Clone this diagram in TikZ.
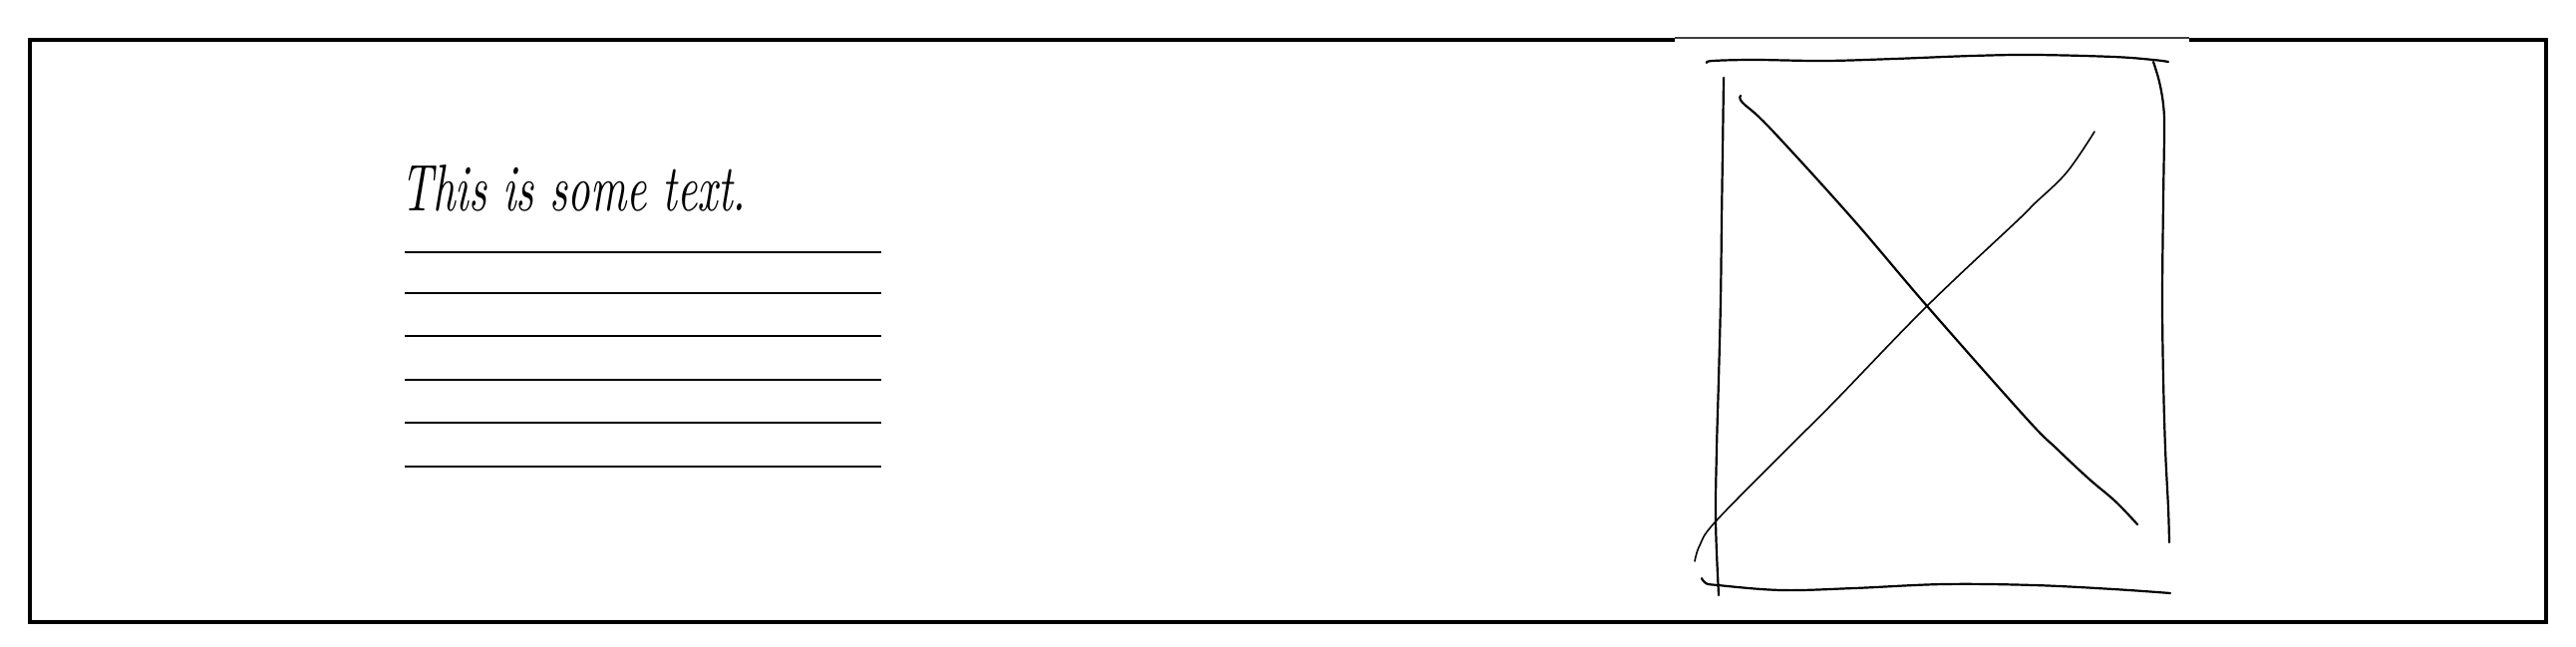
\documentclass[tikz,border=0pt]{standalone}
\usepackage{graphicx}
\tikzset{
  framebox/.style={line width=2pt, draw=black},
  ruleline/.style={line width=1pt, draw=black},
  sketch/.style={line width=1.1pt, draw=black, line cap=round, line join=round},
  thinsketch/.style={line width=0.8pt, draw=black, line cap=round, line join=round},
}
\begin{document}
\begin{tikzpicture}[x=0.5pt,y=-0.5pt]
\useasboundingbox (0,0) rectangle (2584,648);
% outer frame
\draw[framebox] (30,40) rectangle (2554,624);
% image placeholder background covering the frame
\fill[white] (1680,37.5) rectangle (2196,45);
\draw[line width=0.6pt, draw=black!75] (1680,38) -- (2196,38);
% text
\node[anchor=base west, inner sep=0pt] (title) at (402,211)
  {\resizebox{173pt}{23pt}{\itshape This is some text.}};
% ruled lines
\foreach \yy [count=\i] in {253,294,337,381,424,468}
  \draw[ruleline] (406,\yy) coordinate (l\i) -- (884,\yy) coordinate (r\i);
% sketched placeholder
\draw[sketch] plot[smooth, tension=0.6] coordinates {(1712,63) (1718,61) (1760,60) (1830,61) (1900,59) (1978,56) (2040,55) (2120,57) (2160,60) (2175,62)};
\draw[sketch] plot[smooth, tension=0.6] coordinates {(2160,62) (2166,82) (2170,105) (2171,130) (2170,200) (2169,300) (2170,380) (2172,450) (2175,510) (2176,544)};
\draw[sketch] plot[smooth, tension=0.6] coordinates {(1729,78) (1728,150) (1727,220) (1726,300) (1724,380) (1722,450) (1721,523) (1724,597)};
\draw[sketch] plot[smooth, tension=0.6] coordinates {(1707,580) (1711,585) (1723,587) (1787,592) (1860,590) (1950,586) (2040,587) (2120,591) (2177,595)};
\draw[sketch] plot[smooth, tension=0.6] coordinates {(1746,96) (1748,103) (1775,128) (1857,218) (1933,307) (2033,420) (2063,450) (2095,480) (2122,503) (2144,526)};
\draw[thinsketch] plot[smooth, tension=0.6] coordinates {(1700,563) (1705,547) (1721,523) (1793,450) (1840,403) (1933,307) (2025,220) (2040,205) (2073,173) (2101,132)};
\end{tikzpicture}
\end{document}
